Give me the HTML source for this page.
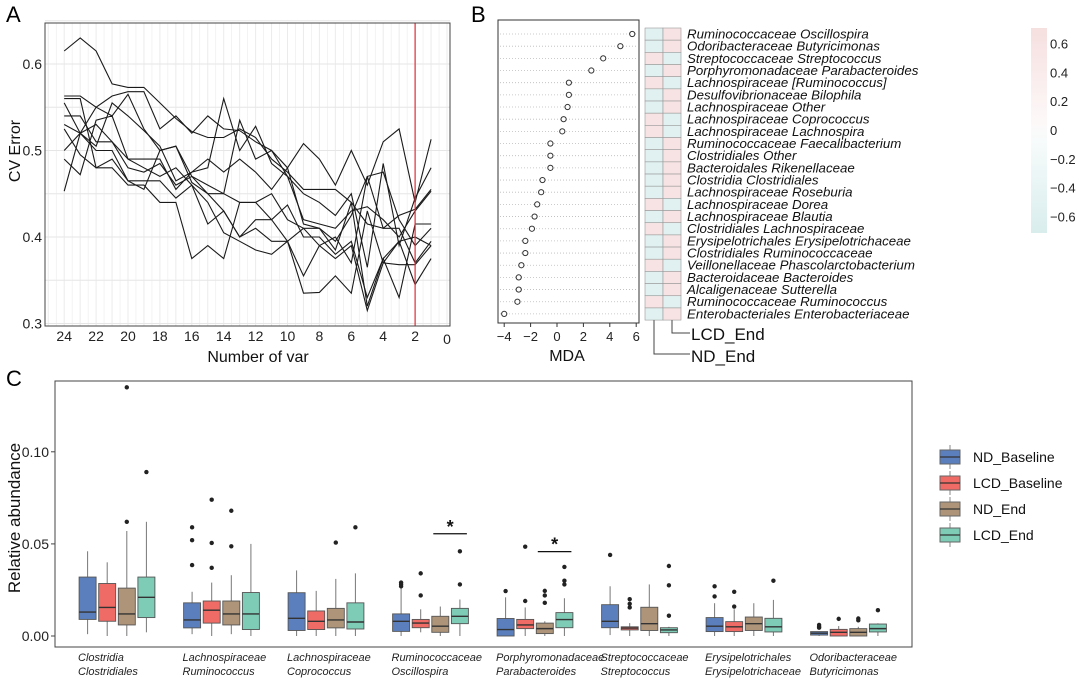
<!DOCTYPE html>
<html><head><meta charset="utf-8">
<style>
body{margin:0;background:#fff;}
svg{display:block;font-family:"Liberation Sans",sans-serif;}
</style></head>
<body>
<svg id="fig" width="1080" height="678" viewBox="0 0 1080 678" xmlns="http://www.w3.org/2000/svg">
<g id="pa"></g>
<g id="pb"></g>
<g id="pc"></g>
</svg>
<script>
// ---------- Panel A data ----------
const aNvars = [24,23,22,21,20,19,18,17,16,15,14,13,12,11,10,9,8,7,6,5,4,3,2,1];
const aXTicks = [24,22,20,18,16,14,12,10,8,6,4,2,0];
const aYTicks = [0.3,0.4,0.5,0.6];
const aS1 = [0.615,0.63,0.615,0.577,0.573,0.573,0.555,0.537,0.522,0.515,0.515,0.525,0.515,0.49,0.475,0.455,0.455,0.455,0.44,0.415,0.41,0.425,0.432,0.455];
const aS2 = [0.563,0.563,0.55,0.563,0.568,0.568,0.525,0.54,0.52,0.54,0.525,0.523,0.51,0.5,0.48,0.508,0.49,0.46,0.5,0.46,0.51,0.525,0.44,0.513];
const aS3 = [0.555,0.52,0.505,0.555,0.54,0.523,0.505,0.465,0.475,0.48,0.56,0.5,0.528,0.485,0.47,0.42,0.415,0.41,0.43,0.435,0.42,0.4,0.43,0.453];
const aS4 = [0.453,0.52,0.55,0.54,0.565,0.525,0.5,0.505,0.463,0.45,0.45,0.535,0.49,0.5,0.47,0.45,0.44,0.425,0.45,0.365,0.485,0.39,0.445,0.48];
const aS5 = [0.54,0.54,0.51,0.51,0.49,0.49,0.49,0.455,0.475,0.49,0.475,0.49,0.475,0.455,0.48,0.415,0.41,0.395,0.425,0.47,0.475,0.42,0.39,0.41];
const aS6 = [0.5,0.52,0.5,0.5,0.465,0.455,0.5,0.505,0.47,0.46,0.45,0.44,0.44,0.45,0.42,0.41,0.39,0.4,0.37,0.47,0.41,0.41,0.37,0.395];
const aS7 = [0.49,0.472,0.535,0.54,0.49,0.48,0.47,0.48,0.46,0.415,0.43,0.4,0.42,0.42,0.437,0.4,0.4,0.38,0.395,0.33,0.375,0.33,0.415,0.415];
const aS8 = [0.525,0.495,0.48,0.48,0.46,0.46,0.44,0.44,0.375,0.39,0.375,0.44,0.44,0.42,0.395,0.335,0.336,0.355,0.335,0.43,0.37,0.368,0.368,0.39];
const aS9 = [0.53,0.52,0.53,0.51,0.48,0.475,0.485,0.46,0.47,0.45,0.43,0.4,0.41,0.395,0.395,0.41,0.41,0.385,0.44,0.32,0.375,0.395,0.345,0.375];
const aS10 = [0.56,0.56,0.48,0.49,0.465,0.465,0.465,0.445,0.46,0.44,0.405,0.395,0.385,0.38,0.395,0.355,0.39,0.375,0.39,0.315,0.37,0.395,0.4,0.39];
const aSelected = 2;

// ---------- Panel B data ----------
const bTaxa = ["Ruminococcaceae Oscillospira","Odoribacteraceae Butyricimonas","Streptococcaceae Streptococcus","Porphyromonadaceae Parabacteroides","Lachnospiraceae [Ruminococcus]","Desulfovibrionaceae Bilophila","Lachnospiraceae Other","Lachnospiraceae Coprococcus","Lachnospiraceae Lachnospira","Ruminococcaceae Faecalibacterium","Clostridiales Other","Bacteroidales Rikenellaceae","Clostridia Clostridiales","Lachnospiraceae Roseburia","Lachnospiraceae Dorea","Lachnospiraceae Blautia","Clostridiales Lachnospiraceae","Erysipelotrichales Erysipelotrichaceae","Clostridiales Ruminococcaceae","Veillonellaceae Phascolarctobacterium","Bacteroidaceae Bacteroides","Alcaligenaceae Sutterella","Ruminococcaceae Ruminococcus","Enterobacteriales Enterobacteriaceae"];
const bMDA = [5.7,4.8,3.5,2.6,0.9,0.9,0.8,0.5,0.4,-0.5,-0.5,-0.5,-1.1,-1.2,-1.5,-1.7,-1.9,-2.4,-2.4,-2.7,-2.9,-2.9,-3.0,-4.0];
const bNDEnd = [-0.5,-0.5,0.5,-0.5,0.5,-0.5,-0.5,0.5,0.5,-0.5,-0.5,-0.5,-0.5,-0.5,0.5,-0.5,0.5,-0.5,-0.5,0.5,-0.5,-0.5,0.5,-0.5];
const bLCDEnd = [0.5,0.5,-0.5,0.5,-0.5,0.5,0.5,-0.5,-0.5,0.5,0.5,0.5,0.5,0.5,-0.5,0.5,-0.5,0.5,0.5,-0.5,0.5,0.5,-0.5,0.5];
const bXTicks = [-4,-2,0,2,4,6];
const bScaleTicks = [0.6,0.4,0.2,0,-0.2,-0.4,-0.6];

// ---------- Panel C data ----------
const cGroups = [["Clostridia","Clostridiales"],["Lachnospiraceae","Ruminococcus"],["Lachnospiraceae","Coprococcus"],["Ruminococcaceae","Oscillospira"],["Porphyromonadaceae","Parabacteroides"],["Streptococcaceae","Streptococcus"],["Erysipelotrichales","Erysipelotrichaceae"],["Odoribacteraceae","Butyricimonas"]];
const cSeries = ["ND_Baseline","LCD_Baseline","ND_End","LCD_End"];
const cYTicks = [0,0.05,0.10];
const cNDBase = [[0.001,0.009,0.013,0.032,0.046],[0.001,0.0044,0.0087,0.018,0.024],[0,0.003,0.0096,0.0235,0.0356],[0,0.0025,0.008,0.012,0.026],[0,0,0.0035,0.0095,0.021],[0.0005,0.0045,0.008,0.017,0.027],[0,0.0024,0.0053,0.010,0.0178],[0,0.0005,0.0015,0.0024,0.0024]];
const cLCDBase = [[0,0.008,0.0155,0.0285,0.040],[0,0.007,0.014,0.019,0.029],[0,0.0035,0.008,0.0136,0.0245],[0.002,0.0045,0.007,0.009,0.0145],[0,0.004,0.006,0.009,0.0155],[0,0.0033,0.0043,0.005,0.007],[0,0.0024,0.005,0.0078,0.0145],[0,0,0.002,0.0036,0.0054]];
const cNDEnd = [[0,0.006,0.012,0.026,0.057],[0.001,0.006,0.012,0.019,0.033],[0,0.0044,0.0087,0.015,0.031],[0,0.002,0.0053,0.0107,0.016],[0,0.0013,0.004,0.007,0.008],[0,0.003,0.0067,0.0156,0.028],[0,0.003,0.0067,0.0103,0.0178],[0,0,0.002,0.004,0.005]];
const cLCDEnd = [[0.002,0.010,0.021,0.032,0.062],[0,0.0035,0.012,0.0236,0.050],[0,0.0038,0.0076,0.018,0.034],[0,0.0067,0.0107,0.015,0.0198],[0,0.0045,0.0089,0.0127,0.0205],[0,0.0018,0.0033,0.0045,0.005],[0,0.0022,0.005,0.0096,0.0196],[0,0.0022,0.004,0.0065,0.0069]];
const cOutNDBase = [[],[0.059,0.052,0.0385],[],[0.029,0.028,0.027],[0.0244],[0.044],[0.027,0.0215],[0.006,0.005,0.0045]];
const cOutLCDBase = [[],[0.074,0.0505,0.037],[],[0.034,0.022],[0.0485,0.019],[0.02,0.0175,0.0155],[0.024,0.016],[0.0093]];
const cOutNDEnd = [[0.135,0.062],[0.068,0.0487],[0.0507],[],[0.0245,0.022,0.018],[],[],[0.0095,0.0085]];
const cOutLCDEnd = [[0.089],[],[0.059],[0.046,0.028],[0.0375,0.030,0.028],[0.038,0.0275,0.011],[0.03],[0.014]];
const cSig = [[3,0.0555],[4,0.0458]];

const NS="http://www.w3.org/2000/svg";
function mk(tag, attrs, parent, text){
  const e=document.createElementNS(NS,tag);
  for(const k in attrs) e.setAttribute(k,attrs[k]);
  if(text!==undefined) e.textContent=text;
  parent.appendChild(e); return e;
}

// ===== Panel A =====
(function(){
  const g=document.getElementById('pa');
  const L=45,R=450,T=23,B=326;
  const xA=n=>447-n*15.95;
  const yA=v=>64+(0.6-v)*865;
  const lab=mk('text',{x:6,y:22,'font-size':22},g,'A');
  
  
  for(let n=0;n<=25;n+=0.5){const x=xA(n); if(x<L||x>R)continue;
    const l=mk('line',{x1:x,x2:x,y1:T,y2:B,stroke:'#ebebeb','stroke-width':n%1?0.6:1},g);
    }
  for(let v=0.3;v<=0.651;v+=0.05){const y=yA(v);
    const l=mk('line',{x1:L,x2:R,y1:y,y2:y,stroke:'#e6e6e6','stroke-width':1},g);
    }
  const series=[aS1,aS2,aS3,aS4,aS5,aS6,aS7,aS8,aS9,aS10];
  series.forEach((s,i)=>{
    const pts=s.map((v,j)=>xA(aNvars[j]).toFixed(1)+','+yA(v).toFixed(1)).join(' ');
    const p=mk('polyline',{points:pts,fill:'none',stroke:'#1a1a1a','stroke-width':1.1},g);
    
    
  });
  const rl=mk('line',{x1:xA(aSelected),x2:xA(aSelected),y1:T,y2:B,stroke:'#d9303a','stroke-width':1.2},g);
  
  const fr=mk('rect',{x:L,y:T,width:R-L,height:B-T,fill:'none',stroke:'#444','stroke-width':1},g);
  
  aXTicks.forEach(n=>{const t=mk('text',{x:xA(n),y:n===0?344:341,'font-size':14,'text-anchor':'middle',fill:'#222'},g,String(n));
    });
  aYTicks.forEach(v=>{const t=mk('text',{x:42,y:yA(v)+5,'font-size':14,'text-anchor':'end',fill:'#222'},g,v.toFixed(1));
    });
  const xt=mk('text',{x:258,y:362,'font-size':16,'text-anchor':'middle',fill:'#111'},g,'Number of var');
  
  const yt=mk('text',{x:0,y:0,'font-size':16,'text-anchor':'middle',fill:'#111',transform:'translate(20,151) rotate(-90)'},g,'CV Error');
  
})();

// ===== Panel B =====
(function(){
  const g=document.getElementById('pb');
  const L=498,R=639,T=20,B=323;
  const xB=v=>557+v*13.2;
  const rowY=i=>34+i*12.17;
  const lab=mk('text',{x:471,y:22,'font-size':22},g,'B');
  
  bMDA.forEach((v,i)=>{
    const l=mk('line',{x1:L+2,x2:R-2,y1:rowY(i),y2:rowY(i),stroke:'#bbb','stroke-width':0.8,'stroke-dasharray':'1,2'},g);
    
    const c=mk('circle',{cx:xB(v),cy:rowY(i),r:2.6,fill:'#fff',stroke:'#333','stroke-width':1},g);
    
  });
  const fr=mk('rect',{x:L,y:T,width:R-L,height:B-T,fill:'none',stroke:'#333','stroke-width':1},g);
  
  bXTicks.forEach(v=>{
    const tl=mk('line',{x1:xB(v),x2:xB(v),y1:B,y2:B+4,stroke:'#333'},g);
    
    const t=mk('text',{x:xB(v),y:B+18,'font-size':13,'text-anchor':'middle',fill:'#222'},g,v<0?'\u2212'+(-v):String(v));
    
  });
  const xt=mk('text',{x:567,y:361,'font-size':16,'text-anchor':'middle',fill:'#111'},g,'MDA');
  
  const col=v=>v>0?'#f7e3e3':'#e1f1f1';
  const hx=645,cw=18,rh=12.17,hy=28;
  bTaxa.forEach((name,i)=>{
    const a=mk('rect',{x:hx,y:hy+i*rh,width:cw,height:rh,fill:col(bNDEnd[i]),stroke:'#999','stroke-width':0.6},g);
    
    const b=mk('rect',{x:hx+cw,y:hy+i*rh,width:cw,height:rh,fill:col(bLCDEnd[i]),stroke:'#999','stroke-width':0.6},g);
    
    const t=mk('text',{x:687,y:hy+i*rh+10.5,'font-size':13.3,'font-style':'italic',fill:'#111'},g,name);
    
  });
  const bot=hy+bTaxa.length*rh;
  const d1=mk('polyline',{points:`${hx+cw*1.5},${bot} ${hx+cw*1.5},333 ${hx+cw*2.5},333`,fill:'none',stroke:'#444'},g);
  
  const d2=mk('polyline',{points:`${hx+cw*0.5},${bot} ${hx+cw*0.5},354 ${hx+cw*2.5},354`,fill:'none',stroke:'#444'},g);
  
  const l1=mk('text',{x:691,y:340,'font-size':17,fill:'#111'},g,'LCD_End');
  
  const l2=mk('text',{x:691,y:362,'font-size':17,fill:'#111'},g,'ND_End');
  
  const defs=mk('defs',{},g);
  const gr=mk('linearGradient',{id:'cs',x1:0,y1:0,x2:0,y2:1},defs);
  mk('stop',{offset:'0','stop-color':'#f6dfdf'},gr);
  mk('stop',{offset:'0.45','stop-color':'#fdf8f8'},gr);
  mk('stop',{offset:'0.55','stop-color':'#f7fbfb'},gr);
  mk('stop',{offset:'1','stop-color':'#d9eded'},gr);
  const cs=mk('rect',{x:1031,y:28,width:16,height:205,fill:'url(#cs)'},g);
  
  const ys=v=>130-v*144;
  bScaleTicks.forEach(v=>{
    const t=mk('text',{x:1050,y:ys(v)+5,'font-size':13,fill:'#222'},g,v===0?'0':(v<0?'\u2212'+(-v).toFixed(1):v.toFixed(1)));
    
  });
})();

// ===== Panel C =====
(function(){
  const g=document.getElementById('pc');
  const L=55,R=912,T=381,B=647;
  const yC=v=>636-v*1842;
  const gx=i=>117+i*104.5;
  const colors=['#5b7fbd','#ef6b65','#ae957a','#7ecbb6'];
  const boxes=[cNDBase,cLCDBase,cNDEnd,cLCDEnd];
  const outs=[cOutNDBase,cOutLCDBase,cOutNDEnd,cOutLCDEnd];
  const lab=mk('text',{x:6,y:386,'font-size':22},g,'C');
  
  const fr=mk('rect',{x:L,y:T,width:R-L,height:B-T,fill:'none',stroke:'#444','stroke-width':1},g);
  
  cYTicks.forEach(v=>{
    const tl=mk('line',{x1:L-4,x2:L,y1:yC(v),y2:yC(v),stroke:'#444'},g);
    
    const t=mk('text',{x:L-6,y:yC(v)+5,'font-size':14,'text-anchor':'end',fill:'#222'},g,v.toFixed(2));
    
  });
  const yt=mk('text',{x:0,y:0,'font-size':17,'text-anchor':'middle',fill:'#111',transform:'translate(20,518) rotate(-90)'},g,'Relative abundance');
  
  cGroups.forEach((lbl,i)=>{
    for(let s=0;s<4;s++){
      const cx=gx(i)+(s-1.5)*19.6, w=17;
      const d=boxes[s][i];
      const wl=mk('line',{x1:cx,x2:cx,y1:yC(d[0]),y2:yC(d[4]),stroke:'#777','stroke-width':1},g);
      
      const r=mk('rect',{x:cx-w/2,y:yC(d[3]),width:w,height:Math.max(1,yC(d[1])-yC(d[3])),fill:colors[s],stroke:'#555','stroke-width':0.9},g);
      
      
      const m=mk('line',{x1:cx-w/2,x2:cx+w/2,y1:yC(d[2]),y2:yC(d[2]),stroke:'#333','stroke-width':1.4},g);
      
      outs[s][i].forEach(v=>{
        const o=mk('circle',{cx:cx,cy:yC(v),r:2.2,fill:'#222'},g);
        
      });
    }
    const t1=mk('text',{x:gx(i)-39,y:661,'font-size':11,'font-style':'italic',fill:'#222'},g,lbl[0]);
    
    const t2=mk('text',{x:gx(i)-39,y:675,'font-size':11,'font-style':'italic',fill:'#222'},g,lbl[1]);
    
  });
  cSig.forEach(([gi,v])=>{
    const x1=gx(gi)+0.5*19.6-7, x2=gx(gi)+1.5*19.6+7;
    const l=mk('line',{x1:x1,x2:x2,y1:yC(v),y2:yC(v),stroke:'#111','stroke-width':1.2},g);
    
    const s=mk('text',{x:(x1+x2)/2,y:yC(v)-1,'font-size':18,'font-weight':'bold','text-anchor':'middle',fill:'#111'},g,'*');
    
  });
  cSeries.forEach((name,s)=>{
    const y=457+s*26;
    const wl=mk('line',{x1:950,x2:950,y1:y-12,y2:y+12,stroke:'#888'},g);
    
    const r=mk('rect',{x:940,y:y-7,width:20,height:14,fill:colors[s],stroke:'#666'},g);
    
    const m=mk('line',{x1:940,x2:960,y1:y,y2:y,stroke:'#333','stroke-width':1.2},g);
    
    const t=mk('text',{x:973,y:y+5,'font-size':14,fill:'#111'},g,name);
    
  });
})();
</script>
</body></html>
